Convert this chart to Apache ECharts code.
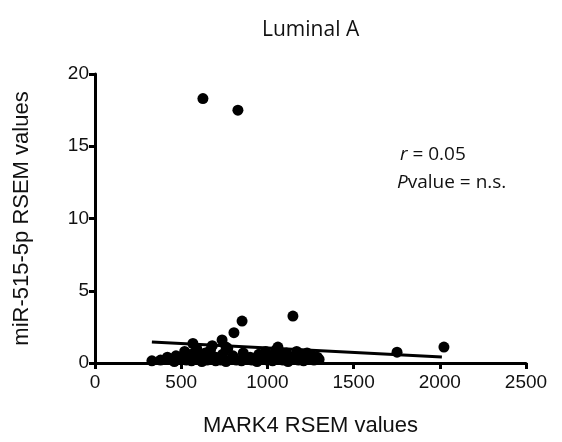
<!DOCTYPE html>
<html>
<head>
<meta charset="utf-8">
<title>Luminal A</title>
<style>
  html, body { margin: 0; padding: 0; background: #fff; }
  #main { width: 562px; height: 442px; }
</style>
</head>
<body>
<div id="main"></div>
<script src="https://cdn.jsdelivr.net/npm/echarts@6/dist/echarts.min.js"></script>
<script>
// MARK4 RSEM values (x) vs miR-515-5p RSEM values (y)
var markX = [
  330, 380, 420, 460, 500, 530, 560, 590, 620, 650, 680, 700, 730, 760, 790, 820,
  850, 880, 910, 940, 970, 1000, 1030, 1060, 1090, 1120, 1150, 1180, 1210, 1240, 1270, 1300,
  420, 470, 520, 560, 590, 610, 640, 670, 700, 740, 770, 800, 860, 900, 950, 990,
  1020, 1050, 1080, 1110, 1140, 1170, 1200, 1230, 1260, 1290,
  568, 737, 806, 853, 1148, 1061, 680, 760,
  626, 829, 1752, 2024
];
var mirY = [
  0.15, 0.2, 0.25, 0.1, 0.3, 0.2, 0.15, 0.25, 0.1, 0.2, 0.3, 0.15, 0.2, 0.1, 0.25, 0.2,
  0.15, 0.3, 0.2, 0.1, 0.25, 0.2, 0.15, 0.3, 0.2, 0.1, 0.25, 0.2, 0.15, 0.3, 0.2, 0.25,
  0.4, 0.5, 0.8, 0.6, 1.0, 0.5, 0.7, 0.9, 0.4, 0.6, 1.0, 0.5, 0.7, 0.4, 0.6, 0.8,
  0.5, 0.9, 0.6, 0.7, 0.4, 0.8, 0.6, 0.7, 0.5, 0.4,
  1.35, 1.6, 2.1, 2.9, 3.25, 1.1, 1.2, 1.1,
  18.3, 17.5, 0.75, 1.1
];
// regression line end points
var fitX = [330, 2012];
var fitY = [1.45, 0.42];

var xTicks = [0, 500, 1000, 1500, 2000, 2500];
var yTicks = [0, 5, 10, 15, 20];

var points = markX.map(function (x, i) { return [x, mirY[i]]; });
var fitLine = fitX.map(function (x, i) { return [x, fitY[i]]; });

var myChart = echarts.init(document.getElementById('main'));

var axisFont = 'Liberation Sans, Arial, sans-serif';
var axisStyle = {
  axisLine: { show: true, onZero: false, lineStyle: { color: '#000', width: 3 } },
  axisTick: { show: true, inside: false, length: 6, lineStyle: { color: '#000', width: 3 } },
  axisLabel: { color: '#111', fontSize: 19, fontFamily: axisFont, formatter: function (v) { return String(v); } },
  splitLine: { show: false },
  nameTextStyle: { color: '#111', fontSize: 22, fontFamily: axisFont }
};

var noteFont = '19px "Open Sans", sans-serif';

var option = {
  backgroundColor: '#fff',
  animation: false,
  title: {
    text: 'Luminal A',
    left: 257,
    top: 15,
    textStyle: { color: '#111', fontSize: 21, fontWeight: 'normal', fontFamily: 'Open Sans, sans-serif' }
  },
  grid: { left: 95, right: 36, top: 74, bottom: 79 },
  xAxis: Object.assign({
    type: 'value',
    min: xTicks[0],
    max: xTicks[xTicks.length - 1],
    interval: 500,
    name: 'MARK4 RSEM values',
    nameLocation: 'middle',
    nameGap: 52
  }, axisStyle, { axisLabel: Object.assign({}, axisStyle.axisLabel, { margin: 10 }) }),
  yAxis: Object.assign({
    type: 'value',
    min: yTicks[0],
    max: yTicks[yTicks.length - 1],
    interval: 5,
    name: 'miR-515-5p RSEM values',
    nameLocation: 'middle',
    nameGap: 62
  }, axisStyle, { axisLabel: Object.assign({}, axisStyle.axisLabel, { margin: 6 }) }),
  graphic: [
    {
      type: 'text',
      left: 400,
      top: 145,
      style: {
        text: '{i|r} = 0.05',
        fill: '#111',
        font: noteFont,
        rich: { i: { fontStyle: 'italic', fontSize: 19, fontFamily: 'Open Sans' } }
      }
    },
    {
      type: 'text',
      left: 397,
      top: 173,
      style: {
        text: '{i|P}value = n.s.',
        fill: '#111',
        font: noteFont,
        rich: { i: { fontStyle: 'italic', fontSize: 19, fontFamily: 'Open Sans' } }
      }
    }
  ],
  series: [
    {
      type: 'line',
      data: fitLine,
      showSymbol: false,
      symbol: 'none',
      lineStyle: { color: '#000', width: 3 },
      z: 3
    },
    {
      type: 'scatter',
      data: points,
      symbol: 'circle',
      symbolSize: 11,
      itemStyle: { color: '#000', opacity: 1 },
      z: 4
    }
  ]
};

myChart.setOption(option);
</script>
</body>
</html>
